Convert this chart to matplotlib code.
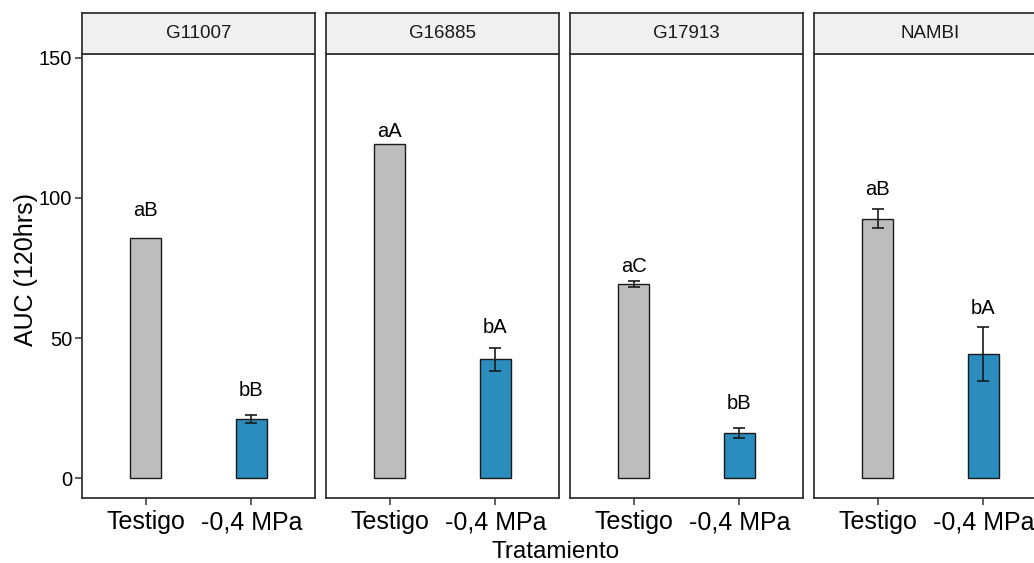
import numpy as np
import matplotlib.pyplot as plt

plt.rcParams['font.family'] = ['Liberation Sans', 'DejaVu Sans']

genotipos = ['G11007', 'G16885', 'G17913', 'NAMBI']
tratamientos = ['Testigo', '-0,4 MPa']
auc_testigo = [85.7, 119.3, 69.3, 92.6]
se_testigo = [0.0, 0.0, 0.9, 3.3]
auc_estres = [21.1, 42.5, 16.1, 44.3]
se_estres = [1.3, 4.1, 1.8, 9.6]
letras_testigo = ['aB', 'aA', 'aC', 'aB']
letras_estres = ['bB', 'bA', 'bB', 'bA']
y_letras_testigo = [95.4, 123.6, 75.4, 103.2]
y_letras_estres = [31.4, 53.6, 26.8, 60.4]

colores = ['#bdbdbd', '#2b8cbe']
W, H = 1034, 563
fig = plt.figure(figsize=(W / 100, H / 100), dpi=100)

x = np.array([1, 2])
for i, g in enumerate(genotipos):
    left = 82 + i * 244
    ax = fig.add_axes([left / W, 65 / H, 233 / W, 444 / H])
    vals = [auc_testigo[i], auc_estres[i]]
    errs = [se_testigo[i], se_estres[i]]
    ax.bar(x, vals, width=0.3, color=colores, edgecolor='#1a1a1a', linewidth=1.0, zorder=2)
    # sin barra de error cuando el error es cero
    for xi, v, e in zip(x, vals, errs):
        if e > 0:
            ax.errorbar(xi, v, yerr=e, fmt='none', ecolor='#1a1a1a', elinewidth=1.2,
                        capsize=4, capthick=1.2, zorder=3)
    ax.text(1, y_letras_testigo[i], letras_testigo[i], ha='center', va='center', fontsize=14.5)
    ax.text(2, y_letras_estres[i], letras_estres[i], ha='center', va='center', fontsize=14.5)
    ax.set_xlim(0.4, 2.6)
    ax.set_ylim(-7.1, 151.4)
    ax.set_xticks(x)
    ax.set_xticklabels(tratamientos, fontsize=18)
    ax.set_yticks([0, 50, 100, 150])
    if i == 0:
        ax.set_yticklabels(['0', '50', '100', '150'], fontsize=14.5)
    else:
        ax.tick_params(axis='y', left=False, labelleft=False)
    ax.tick_params(axis='both', length=5, width=1.1, color='#333333')
    ax.tick_params(axis='x', pad=4)
    ax.tick_params(axis='y', pad=2)
    for s in ax.spines.values():
        s.set_color('#333333')
        s.set_linewidth(1.3)

    # strip
    sax = fig.add_axes([left / W, 509 / H, 233 / W, 41 / H])
    sax.set_facecolor('#f0f0f0')
    sax.set_xticks([])
    sax.set_yticks([])
    for s in sax.spines.values():
        s.set_color('#333333')
        s.set_linewidth(1.3)
    sax.text(0.5, 0.5, g, transform=sax.transAxes, ha='center', va='center',
             fontsize=13.5, color='#1a1a1a')

fig.text(26 / W, 1 - 270 / H, 'AUC (120hrs)', rotation=90, ha='center', va='center', fontsize=18)
fig.text(556 / W, 1 - 552 / H, 'Tratamiento', ha='center', va='center', fontsize=17.5)

fig.savefig('out.png', dpi=100)
